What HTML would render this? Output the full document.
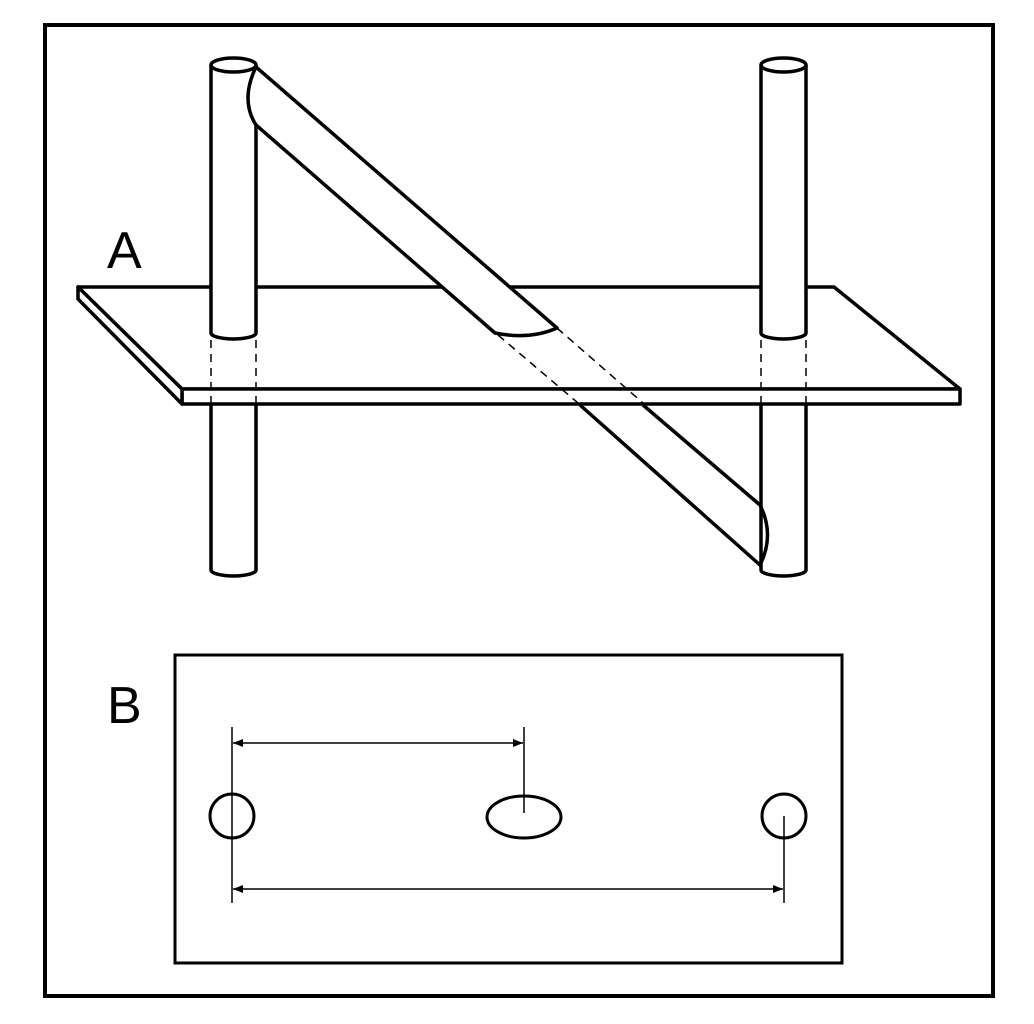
<!DOCTYPE html><html><head><style>body{margin:0;background:#fff}</style></head><body>
<svg width="1034" height="1024" xmlns="http://www.w3.org/2000/svg" style="display:block">
<defs><marker id="a" markerWidth="10" markerHeight="8" refX="10" refY="4" orient="auto-start-reverse" markerUnits="userSpaceOnUse"><path d="M0,0L10,4L0,8z" fill="#000"/></marker></defs>
<rect x="45" y="25" width="948" height="971" fill="#fff" stroke="#000" stroke-width="4"/>
<g fill="none" stroke="#000" stroke-width="3.5" stroke-linejoin="round">
<!-- plate -->
<polygon points="78,287 834,287 960,389 182,389" fill="#fff"/>
<polygon points="182,389 960,389 960,404 182,404" fill="#fff"/>
<polygon points="78,287 78,299 182,404 182,389" fill="#fff"/>
<!-- left pole upper -->
<path d="M211,65 V333 A22.5,6 0 0 0 256,333 V65" fill="#fff"/>
<ellipse cx="233.5" cy="65" rx="22.5" ry="7" fill="#fff"/>
<!-- right pole upper -->
<path d="M761,65 V333 A22.5,6 0 0 0 806,333 V65" fill="#fff"/>
<ellipse cx="783.5" cy="65" rx="22.5" ry="7" fill="#fff"/>
<!-- lower poles -->
<path d="M211,405 V570 A22.5,6 0 0 0 256,570 V405"/>
<path d="M761,405 V570 A22.5,6 0 0 0 806,570 V405"/>
<!-- diagonal top part -->
<path d="M256,67 L557,328 Q530,340 495,333 L256,125 Q240,100 256,67 Z" fill="#fff"/>
<!-- diagonal lower part -->
<path d="M643,405 L760,505 Q775,535 760,565 L580,405"/>
</g>
<g stroke="#000" stroke-width="1.5" stroke-dasharray="8,6" fill="none">
<line x1="211" y1="340" x2="211" y2="404"/><line x1="256" y1="340" x2="256" y2="404"/>
<line x1="761" y1="340" x2="761" y2="404"/><line x1="806" y1="340" x2="806" y2="404"/>
<line x1="557" y1="328" x2="643" y2="403"/><line x1="498" y1="335" x2="578" y2="403"/>
</g>
<g font-family="Liberation Sans, sans-serif" font-size="52" fill="#000">
<text x="107" y="268">A</text><text x="107" y="723">B</text>
</g>
<rect x="175" y="655" width="667" height="308" fill="none" stroke="#000" stroke-width="3"/>
<g fill="none" stroke="#000" stroke-width="3">
<circle cx="232" cy="816" r="22"/><ellipse cx="524" cy="817" rx="37" ry="21"/><circle cx="784" cy="816" r="22"/>
</g>
<g stroke="#000" stroke-width="1.5" fill="none">
<line x1="232" y1="727" x2="232" y2="903"/><line x1="524" y1="727" x2="524" y2="813"/><line x1="784" y1="816" x2="784" y2="903"/>
<line x1="233" y1="743" x2="523" y2="743" marker-start="url(#a)" marker-end="url(#a)"/>
<line x1="233" y1="889" x2="783" y2="889" marker-start="url(#a)" marker-end="url(#a)"/>
</g>
</svg></body></html>
